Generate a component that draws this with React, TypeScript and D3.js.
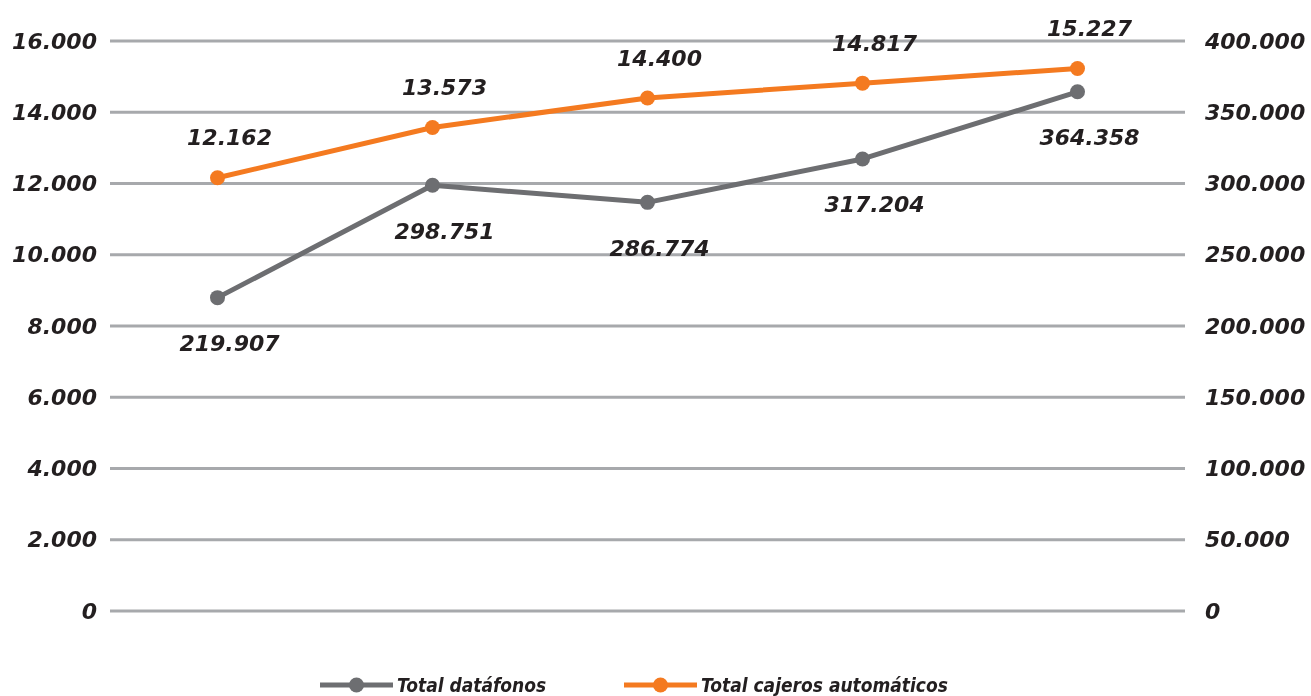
import React, { useRef, useEffect } from 'react';
import * as d3 from 'd3';

const periods = ['P1', 'P2', 'P3', 'P4', 'P5'];
const datafonos = [219907, 298751, 286774, 317204, 364358];
const cajeros = [12162, 13573, 14400, 14817, 15227];
const leftTicks = [0, 2000, 4000, 6000, 8000, 10000, 12000, 14000, 16000];
const rightTicks = [0, 50000, 100000, 150000, 200000, 250000, 300000, 350000, 400000];
const seriesNames = ['Total datáfonos', 'Total cajeros automáticos'];

const GRAY = '#6d6e71';
const ORANGE = '#f47a20';
const GRID = '#a7a9ac';
const TEXT = '#231f20';
const FONT = '"DejaVu Sans", sans-serif';

const fmt = (v: number) => v.toLocaleString('de-DE');

const App = () => {
  const ref = useRef<HTMLDivElement>(null);

  useEffect(() => {
    d3.select(ref.current).selectAll('*').remove();
    const width = 1311;
    const height = 696;

    const svg = d3.select(ref.current)
      .append('svg')
      .attr('width', width)
      .attr('height', height)
      .style('display', 'block')
      .style('font-family', FONT);

    const x = d3.scalePoint().domain(periods).range([110, 1185]).padding(0.5);
    const yL = d3.scaleLinear().domain([0, 16000]).range([611, 41]);
    const yR = d3.scaleLinear().domain([0, 400000]).range([611, 41]);

    // gridlines
    svg.append('g')
      .selectAll('line')
      .data(leftTicks)
      .join('line')
      .attr('x1', 110)
      .attr('x2', 1185)
      .attr('y1', d => yL(d))
      .attr('y2', d => yL(d))
      .attr('stroke', GRID)
      .attr('stroke-width', 3);

    const tickText = (g: any) => g
      .attr('font-size', 22)
      .attr('font-weight', 'bold')
      .attr('font-style', 'italic')
      .attr('fill', TEXT)
      .attr('dominant-baseline', 'central');

    svg.append('g')
      .selectAll('text')
      .data(leftTicks)
      .join('text')
      .attr('x', 97)
      .attr('y', d => yL(d))
      .attr('text-anchor', 'end')
      .call(tickText)
      .text(d => fmt(d));

    svg.append('g')
      .selectAll('text')
      .data(rightTicks)
      .join('text')
      .attr('x', 1205)
      .attr('y', d => yR(d))
      .attr('text-anchor', 'start')
      .call(tickText)
      .text(d => fmt(d));

    const line = (yS: any) => d3.line<number>()
      .x((_, i) => x(periods[i]) as number)
      .y(d => yS(d));

    const drawSeries = (data: number[], yS: any, color: string, dy: number) => {
      svg.append('path')
        .datum(data)
        .attr('d', line(yS))
        .attr('fill', 'none')
        .attr('stroke', color)
        .attr('stroke-width', 5)
        .attr('stroke-linejoin', 'round');
      svg.append('g')
        .selectAll('circle')
        .data(data)
        .join('circle')
        .attr('cx', (_, i) => x(periods[i]) as number)
        .attr('cy', d => yS(d))
        .attr('r', 7.5)
        .attr('fill', color);
      svg.append('g')
        .selectAll('text')
        .data(data)
        .join('text')
        .attr('x', (_, i) => (x(periods[i]) as number) + 12)
        .attr('y', d => yS(d) + dy)
        .attr('text-anchor', 'middle')
        .call(tickText)
        .text(d => fmt(d));
    };

    drawSeries(datafonos, yR, GRAY, 46);
    drawSeries(cajeros, yL, ORANGE, -40);

    // legend
    const legend = [
      { name: seriesNames[0], color: GRAY, x0: 320 },
      { name: seriesNames[1], color: ORANGE, x0: 624 },
    ];
    const lg = svg.append('g')
      .selectAll('g')
      .data(legend)
      .join('g')
      .attr('transform', d => `translate(${d.x0},685)`);
    lg.append('line')
      .attr('x1', 0)
      .attr('x2', 73)
      .attr('stroke', d => d.color)
      .attr('stroke-width', 5);
    lg.append('circle')
      .attr('cx', 36.5)
      .attr('r', 7.5)
      .attr('fill', d => d.color);
    lg.append('text')
      .attr('x', 77)
      .attr('dominant-baseline', 'central')
      .attr('font-size', 19)
      .attr('font-weight', 'bold')
      .attr('font-style', 'italic')
      .attr('font-family', '"DejaVu Sans Condensed", "DejaVu Sans", sans-serif')
      .attr('fill', TEXT)
      .text(d => d.name);
  }, []);

  return <div ref={ref} style={{ position: 'fixed', top: 0, left: 0 }} />;
};

export default App;
